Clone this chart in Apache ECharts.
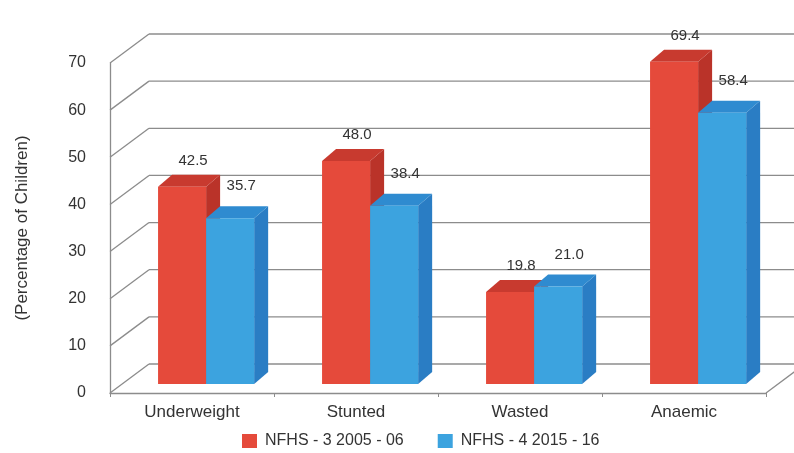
<!DOCTYPE html>
<html>
<head>
<meta charset="utf-8">
<script src="https://cdn.jsdelivr.net/npm/echarts@6/dist/echarts.min.js"></script>
<style>
  html, body { margin: 0; padding: 0; background: #ffffff; }
  #chart { width: 794px; height: 453px; }
</style>
</head>
<body>
<div id="chart"></div>
<script>
// Nutritional status of children, NFHS-3 vs NFHS-4
const categories = ['Underweight', 'Stunted', 'Wasted', 'Anaemic'];
const nfhs3 = [42.5, 48.0, 19.8, 69.4];
const nfhs4 = [35.7, 38.4, 21.0, 58.4];
const yTicks = [0, 10, 20, 30, 40, 50, 60, 70];
const seriesNames = ['NFHS - 3 2005 - 06', 'NFHS - 4 2015 - 16'];

// Oblique projection used for the pseudo-3D look
const WALL_DX = 39, WALL_DY = -29;   // back wall offset from the front plane
const BAR_DX = 14, BAR_DY = -12;     // bar depth
const BAR_LIFT = 9;                  // bar front face sits a little back on the floor
const BAR_SCALE = 0.985;             // slight foreshortening of bar heights
const GRID_COLOR = '#8c8c8c';
const TEXT_COLOR = '#333333';
const FONT = '"Liberation Sans", Arial, sans-serif';

const palettes = [
  { front: '#E54A3B', top: '#C83A2F', side: '#BA3329' },
  { front: '#3CA3DF', top: '#2F8BD0', side: '#2A7DC4' }
];

// Back wall, side wall diagonals and floor edge
function renderFrame(params, api) {
  const cs = params.coordSys;
  const p = api.coord([0, api.value(1)]);
  const left = cs.x, right = cs.x + cs.width;
  const y = p[1];
  const line = (x1, y1, x2, y2) => ({
    type: 'line',
    shape: { x1, y1, x2, y2 },
    style: { stroke: GRID_COLOR, lineWidth: 1.3 }
  });
  const children = [
    line(left, y, left + WALL_DX, y + WALL_DY),
    line(left + WALL_DX, y + WALL_DY, right + WALL_DX, y + WALL_DY)
  ];
  if (api.value(1) === 0) {
    children.push(line(right, y, right + WALL_DX, y + WALL_DY));
  }
  return { type: 'group', children };
}

// One 3D bar per category: side, top, front and value label
function barRenderer(slot, pal, labelGap) {
  return function (params, api) {
    const ci = api.value(0);
    const v = api.value(1);
    const base = api.coord([ci, 0]);
    const band = api.size([1, 0])[0];
    const unit = api.size([0, 1])[1];
    const w = band * 0.293;
    const x0 = base[0] - band * 0.207 + slot * w;
    const x1 = x0 + w;
    const yb = base[1] - BAR_LIFT;
    const yt = yb - v * unit * BAR_SCALE;
    return {
      type: 'group',
      children: [
        { type: 'polygon',
          shape: { points: [[x1, yt], [x1 + BAR_DX, yt + BAR_DY], [x1 + BAR_DX, yb + BAR_DY], [x1, yb]] },
          style: { fill: pal.side } },
        { type: 'polygon',
          shape: { points: [[x0, yt], [x0 + BAR_DX, yt + BAR_DY], [x1 + BAR_DX, yt + BAR_DY], [x1, yt]] },
          style: { fill: pal.top } },
        { type: 'rect',
          shape: { x: x0, y: yt, width: w, height: yb - yt },
          style: { fill: pal.front } },
        { type: 'text', z2: 100,
          x: (x0 + x1) / 2 + BAR_DX / 2 + 4,
          y: yt + BAR_DY - labelGap,
          style: {
            text: v.toFixed(1), fill: TEXT_COLOR,
            font: '15px ' + FONT,
            textAlign: 'center', textVerticalAlign: 'middle'
          } }
      ]
    };
  };
}

const chart = echarts.init(document.getElementById('chart'), null, { renderer: 'canvas' });

chart.setOption({
  animation: false,
  backgroundColor: '#ffffff',
  textStyle: { fontFamily: FONT },
  grid: { left: 110, right: 28, top: 63, bottom: 60 },
  legend: {
    data: seriesNames,
    top: 428,
    left: 237,
    icon: 'rect',
    itemWidth: 15,
    itemHeight: 14,
    itemGap: 34,
    selectedMode: false,
    textStyle: { fontSize: 16, color: TEXT_COLOR, fontFamily: FONT, padding: [0, 0, 0, 3] }
  },
  xAxis: {
    type: 'category',
    data: categories,
    boundaryGap: true,
    axisLine: { show: true, lineStyle: { color: GRID_COLOR, width: 1.3 } },
    axisTick: { show: true, length: 4, lineStyle: { color: GRID_COLOR } },
    axisLabel: { fontSize: 17, color: TEXT_COLOR, margin: 11, fontFamily: FONT },
    splitLine: { show: false }
  },
  yAxis: {
    type: 'value',
    min: 0,
    max: 70,
    interval: 10,
    name: '(Percentage of Children)',
    nameLocation: 'middle',
    nameRotate: 90,
    nameGap: 79,
    nameTextStyle: { fontSize: 17, color: TEXT_COLOR, fontFamily: FONT },
    axisLine: { show: true, lineStyle: { color: GRID_COLOR, width: 1.3 } },
    axisTick: { show: false },
    axisLabel: {
      fontSize: 16, color: TEXT_COLOR, margin: 24,
      verticalAlign: 'middle', padding: [12, 0, 0, 0],
      fontFamily: FONT,
      customValues: yTicks
    },
    splitLine: { show: false }
  },
  series: [
    {
      name: 'frame',
      type: 'custom',
      z: 1,
      silent: true,
      renderItem: renderFrame,
      data: yTicks.map(t => [0, t])
    },
    {
      name: seriesNames[0],
      type: 'custom',
      z: 2,
      itemStyle: { color: palettes[0].front },
      renderItem: barRenderer(0, palettes[0], 14),
      data: nfhs3.map((v, i) => [i, v])
    },
    {
      name: seriesNames[1],
      type: 'custom',
      z: 2,
      itemStyle: { color: palettes[1].front },
      renderItem: barRenderer(1, palettes[1], 20),
      data: nfhs4.map((v, i) => [i, v])
    }
  ]
});
</script>
</body>
</html>
